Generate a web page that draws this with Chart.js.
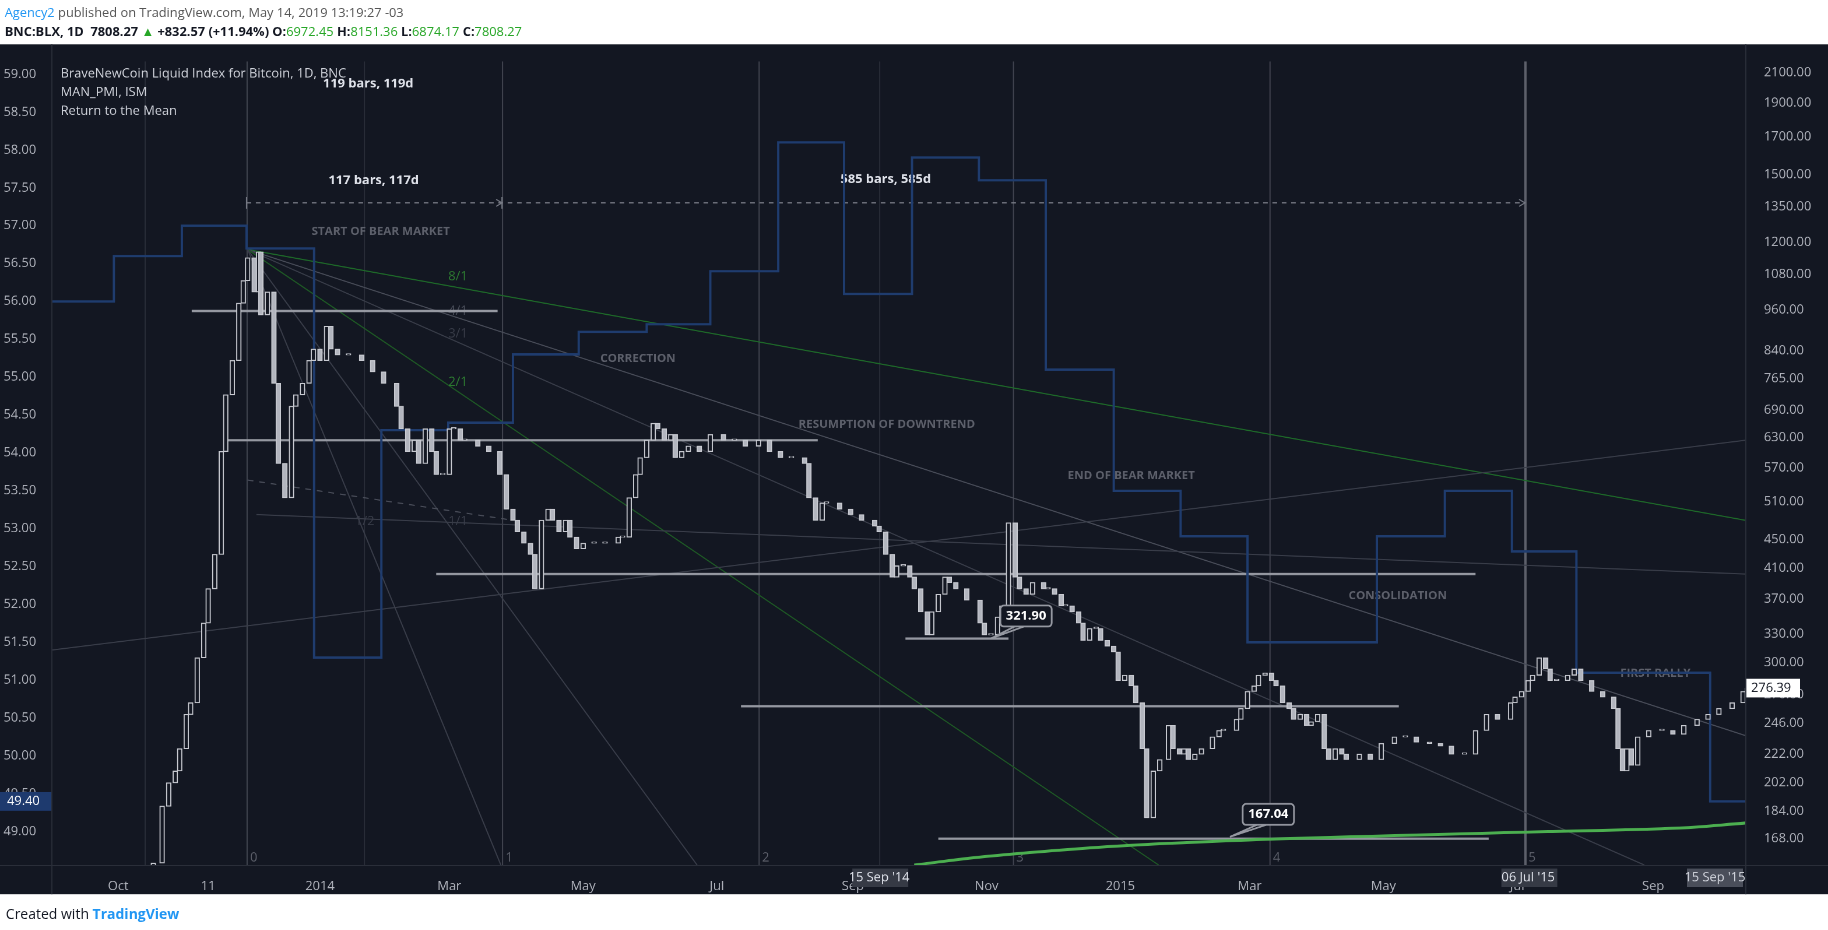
<!DOCTYPE html>
<html><head><meta charset="utf-8">
<script src="https://cdn.jsdelivr.net/npm/chart.js@4/dist/chart.umd.min.js"></script>
<style>
html,body{margin:0;padding:0;background:#fff;overflow:hidden}
#wrap{position:absolute;left:0;top:0;width:1568px;height:798px;transform:scale(1.16582);transform-origin:0 0;font-family:"Open Sans",Arial,sans-serif}
#h1{position:absolute;left:4px;top:3px;font-size:11px;color:#555}
#h1 b{color:#2196f3;font-weight:normal}
#h2{position:absolute;left:4px;top:19px;font-size:11px;color:#131722;font-weight:bold}
#h2 .g{color:#26a626;font-weight:normal}
#cv{position:absolute;left:0;top:38px;width:1568px;height:729px;background:#131722}
#ft{position:absolute;left:5px;top:775px;font-size:12px;color:#131722}
#ft span{color:#2196f3;font-weight:bold}
</style></head><body>
<div id="wrap">
<div id="h1"><b>Agency2</b> published on TradingView.com, May 14, 2019 13:19:27 -03</div>
<div id="h2">BNC:BLX, 1D&nbsp; 7808.27 <span class="g">▲</span> +832.57 (+11.94%) O:<span class="g">6972.45</span> H:<span class="g">8151.36</span> L:<span class="g">6874.17</span> C:<span class="g">7808.27</span></div>
<div id="cv"><canvas id="c" width="1568" height="729"></canvas></div>
<div id="ft">Created with <span>TradingView</span></div>
</div>
<script>
// days counted from 1 Jan 2014
const candleDays=[-76,-72,-69,-66,-64,-61,-59,-56,-53,-51,-48,-45,-43,-40,-37,-35,-33,-30,-28,-27,-24,-21,-19,-16,-13,-11,-8,-5,-3,0,3,5,8,13,19,24,29,35,37,40,43,45,48,51,53,56,59,61,64,66,72,77,82,85,88,90,93,96,98,101,104,106,109,112,114,117,120,125,130,136,138,141,144,146,149,152,154,157,160,162,165,168,173,178,184,189,194,200,205,210,215,221,223,226,229,231,237,242,247,253,255,258,261,263,266,269,271,274,277,279,282,285,287,290,295,301,303,306,309,311,314,317,319,322,325,330,332,335,338,340,343,346,348,351,354,356,359,362,364,367,370,372,375,377,380,383,387,389,392,394,396,399,402,407,410,412,418,420,423,426,428,431,434,436,439,442,444,447,450,452,455,458,460,463,466,468,474,479,484,490,495,500,506,511,516,522,527,532,537,543,545,548,551,553,556,559,561,564,569,572,575,580,585,590,592,594,596,598,601,606,612,617,622,628,633,638,644,649,651];
const candleClose=[155,187,202,210,226,253,263,305,342,383,429,602,726,813,982,1058,1141,1019,1163,945,1019,754,579,517,699,726,754,813,844,813,910,844,828,828,813,783,754,699,649,602,625,579,649,602,558,558,649,649,625,625,613,602,558,498,480,462,445,429,383,480,498,480,462,480,454,437,445,445,445,454,454,517,558,590,625,661,649,625,637,590,602,613,602,637,625,625,613,625,602,590,590,579,517,480,508,508,498,489,480,471,462,429,398,413,413,398,383,355,329,355,376,398,391,383,369,342,329,329,349,362,476,398,383,376,391,383,383,376,362,362,355,342,323,336,336,323,317,311,283,288,278,263,226,180,210,218,244,226,222,226,218,222,226,235,240,240,249,258,273,278,288,290,283,278,263,258,249,253,244,247,253,226,218,226,222,218,222,218,230,235,235,231,230,228,222,222,240,253,249,263,268,273,283,288,305,294,283,283,288,294,283,273,268,258,226,210,226,214,235,240,240,237,244,249,253,258,263,273,276];
const pmiDays=[-122,-94,-63,-33.5,-2.7,28,58.5,88,118,149,178,209,239,270,300.5,331,362,392.5,423,453.7,482,513,543.6,573,604,634,650];
const pmiValues=[56.0,56.6,57.0,56.7,51.3,54.3,54.4,55.3,55.6,55.7,56.4,58.1,56.1,57.9,57.6,55.1,53.5,52.9,51.5,51.5,52.9,53.5,52.7,51.1,51.1,49.4,49.4];
const meanDays=[271,300,340,380,440,500,560,620,651];
const meanValues=[154,158,162,165,168,170,172,174,177];
const priceTicks=[2100,1900,1700,1500,1350,1200,1080,960,840,765,690,630,570,510,450,410,370,330,300,270,246,222,202,184,168];
const pmiTicks=[49,49.5,50,50.5,51,51.5,52,52.5,53,53.5,54,54.5,55,55.5,56,56.5,57,57.5,58,58.5,59];
const timeTickDays=[-92,-51,0,59,120,181,243,304,365,424,485,546,608];
const timeTickLabels=['Oct','11','2014','Mar','May','Jul','Sep','Nov','2015','Mar','May','Jul','Sep'];
// drawings: horizontal levels [dayStart, dayEnd, price]
const levels=[[-58.5,81,957],[-44,227,625],[53,527,402],[267,314,325],[192,492,260],[282,533,168]];
// trend/fan lines [d1,p1,d2,p2,color,dash]
const trendLines=[
 [-33,1172,650,480,'#1f6b2a',[]],[-33,1172,650,236,'#4a4e5a',[]],[-33,1172,604,154,'#3a3e4a',[]],
 [-33,1172,382.5,154,'#1f5a26',[]],[-33,1172,172,154,'#3a3e4a',[]],[-33,1172,82.5,154,'#3a3e4a',[]],
 [-122,313,650,625,'#3a3e4a',[]],[-29,489,650,402,'#3a3e4a',[]],[-33,548,88,480,'#4a4e5a',[5,5]]];
const fanLabels=[['8/1',58.5,1058,'#2e7d32'],['4/1',58.5,945,'#4a4e5a'],['3/1',58.5,877,'#3a3e4a'],['2/1',58.5,748,'#2e7d32'],['1/1',58.5,472,'#3a3e4a'],['1/2',16,472,'#3a3e4a']];
const regionLabels=[['START OF BEAR MARKET',27.7,1249],['CORRECTION',145,822],['RESUMPTION OF DOWNTREND',258.5,661],['END OF BEAR MARKET',370,558],['CONSOLIDATION',491.5,376],['FIRST RALLY',609,291]];
const vLines=[[-33.5,'0'],[83,'1'],[200,'2'],[316,'3'],[433,'4'],[549.5,'5']];
const faintV=[-80,20,255];
const measures=[['119 bars, 119d',22,2030],['117 bars, 117d',24.5,1476],['585 bars, 585d',258,1481]];
const callouts=[['321.90',322,350,306,325],['167.04',432.5,182,415,169]];

const bodies=candleClose.map((c,i)=>{const o=i?candleClose[i-1]:150;const lo=Math.min(o,c),hi=Math.max(o,c);return {x:candleDays[i],y:[lo,hi<lo*1.004?lo*1.004:hi]};});
const up=candleClose.map((c,i)=>c>=(i?candleClose[i-1]:150));

const deco={id:'deco',
 beforeDatasetsDraw(ch){
  const x=ch.scales.x,y=ch.scales.yp,ctx=ch.ctx,a=ch.chartArea;
  ctx.save();ctx.beginPath();ctx.rect(a.left,a.top,a.right-a.left,a.bottom-a.top);ctx.clip();
  ctx.lineWidth=1;
  faintV.forEach(d=>{ctx.strokeStyle='#2a2e39';ctx.beginPath();ctx.moveTo(x.getPixelForValue(d)+.5,a.top);ctx.lineTo(x.getPixelForValue(d)+.5,a.bottom);ctx.stroke();});
  vLines.forEach(v=>{const px=x.getPixelForValue(v[0]);ctx.strokeStyle=v[1]==='5'?'#5d606b':'#434651';ctx.lineWidth=v[1]==='5'?2:1;ctx.beginPath();ctx.moveTo(px+.5,a.top);ctx.lineTo(px+.5,a.bottom);ctx.stroke();
   ctx.fillStyle='#5d606b';ctx.font='11px "Open Sans"';ctx.fillText(v[1],px+3,a.bottom-3);});
  ctx.lineWidth=1;
  trendLines.forEach(t=>{ctx.strokeStyle=t[4];ctx.setLineDash(t[5]);ctx.beginPath();ctx.moveTo(x.getPixelForValue(t[0]),y.getPixelForValue(t[1]));ctx.lineTo(x.getPixelForValue(t[2]),y.getPixelForValue(t[3]));ctx.stroke();});
  ctx.setLineDash([]);
  ctx.font='11px "Open Sans"';
  fanLabels.forEach(f=>{ctx.fillStyle=f[3];ctx.fillText(f[0],x.getPixelForValue(f[1]),y.getPixelForValue(f[2]));});
  ctx.strokeStyle='#9598a1';ctx.lineWidth=2;
  levels.forEach(l=>{const py=y.getPixelForValue(l[2]);ctx.beginPath();ctx.moveTo(x.getPixelForValue(l[0]),py);ctx.lineTo(x.getPixelForValue(l[1]),py);ctx.stroke();});
  ctx.font='bold 10px "Open Sans"';ctx.fillStyle='#5d606b';ctx.textAlign='center';
  regionLabels.forEach(r=>ctx.fillText(r[0],x.getPixelForValue(r[1]),y.getPixelForValue(r[2])+4));
  const ay=y.getPixelForValue(1367);ctx.strokeStyle='#787b86';ctx.lineWidth=1;ctx.setLineDash([4,4]);
  ctx.beginPath();ctx.moveTo(x.getPixelForValue(-33.5),ay);ctx.lineTo(x.getPixelForValue(549.5),ay);ctx.stroke();ctx.setLineDash([]);
  [-33.5,83].forEach(d=>{const px=x.getPixelForValue(d);ctx.beginPath();ctx.moveTo(px,ay-5);ctx.lineTo(px,ay+5);ctx.stroke();});
  [83,549.5].forEach(d=>{const px=x.getPixelForValue(d);ctx.beginPath();ctx.moveTo(px-5,ay-3);ctx.lineTo(px,ay);ctx.lineTo(px-5,ay+3);ctx.stroke();});
  ctx.font='bold 11px "Open Sans"';ctx.fillStyle='#e0e3eb';
  measures.forEach(m=>ctx.fillText(m[0],x.getPixelForValue(m[1]),y.getPixelForValue(m[2])+4));
  ctx.restore();
 },
 afterDatasetsDraw(ch){
  const x=ch.scales.x,y=ch.scales.yp,ctx=ch.ctx,a=ch.chartArea;
  ctx.save();
  ctx.font='bold 11px "Open Sans"';ctx.textAlign='center';ctx.textBaseline='middle';
  callouts.forEach(c=>{const cx=x.getPixelForValue(c[1]),cy=y.getPixelForValue(c[2]);const tx=x.getPixelForValue(c[3]),ty=y.getPixelForValue(c[4]);
   ctx.strokeStyle='#9598a1';ctx.lineWidth=1.5;ctx.beginPath();ctx.moveTo(cx-10,cy+9);ctx.lineTo(tx,ty);ctx.lineTo(cx-2,cy+9);ctx.stroke();
   ctx.fillStyle='#131722';ctx.beginPath();ctx.roundRect(cx-22,cy-9,44,18,3);ctx.fill();ctx.stroke();
   ctx.fillStyle='#fff';ctx.fillText(c[0],cx,cy);});
  ctx.textAlign='left';ctx.font='11px "Open Sans"';ctx.fillStyle='#d1d4dc';
  ['BraveNewCoin Liquid Index for Bitcoin, 1D, BNC','MAN_PMI, ISM','Return to the Mean'].forEach((t,i)=>ctx.fillText(t,a.left+7,a.top+11+i*16));
  const ly=ch.scales.ym.getPixelForValue(pmiValues[pmiValues.length-1]);
  ctx.fillStyle='#1e3a6e';ctx.fillRect(0,ly-8,a.left,16);ctx.fillStyle='#fff';ctx.fillText('49.40',6,ly);
  const ry=y.getPixelForValue(candleClose[candleClose.length-1]);
  ctx.fillStyle='#fff';ctx.fillRect(a.right+1,ry-8,46,16);ctx.fillStyle='#131722';ctx.fillText('276.39',a.right+5,ry);
  [['15 Sep \'14',255],['06 Jul \'15',551]].forEach(l=>{const px=x.getPixelForValue(l[1]);ctx.fillStyle='#363a45';ctx.fillRect(px-23,a.bottom+3,48,16);ctx.fillStyle='#e0e3eb';ctx.textAlign='center';ctx.fillText(l[0],px,a.bottom+11);});
  ctx.fillStyle='#4a4e5a';ctx.fillRect(a.right-50,a.bottom+3,48,16);ctx.fillStyle='#d1d4dc';ctx.fillText('15 Sep \'15',a.right-26,a.bottom+11);
  ctx.strokeStyle='#2a2e39';ctx.lineWidth=1;ctx.beginPath();ctx.moveTo(a.left-.5,0);ctx.lineTo(a.left-.5,ch.height);ctx.moveTo(a.right+.5,0);ctx.lineTo(a.right+.5,ch.height);ctx.moveTo(0,a.bottom+.5);ctx.lineTo(ch.width,a.bottom+.5);ctx.stroke();
  ctx.restore();
 }};

new Chart(document.getElementById('c'),{
 data:{datasets:[
  {type:'line',label:'PMI',yAxisID:'ym',data:pmiDays.map((d,i)=>({x:d,y:pmiValues[i]})),stepped:'before',borderColor:'#1f3c6e',borderWidth:2,pointRadius:0,order:3},
  {type:'bar',label:'BLX',yAxisID:'yp',data:bodies,barThickness:4,backgroundColor:up.map(u=>u?'#131722':'#b2b5be'),borderColor:'#c8cad1',borderWidth:1,borderSkipped:false,order:1},
  {type:'line',label:'mean',yAxisID:'yp',data:meanDays.map((d,i)=>({x:d,y:meanValues[i]})),borderColor:'#4caf50',borderWidth:2.5,pointRadius:0,tension:0.4,order:2}
 ]},
 options:{responsive:false,animation:false,devicePixelRatio:2,
  layout:{padding:0},
  plugins:{legend:{display:false},tooltip:{enabled:false}},
  scales:{
   x:{type:'linear',offset:false,min:-122,max:650,grid:{display:false,offset:false},border:{display:false},
     afterBuildTicks(s){s.ticks=timeTickDays.map(v=>({value:v}));},
     afterFit(s){s.height=25;},
     ticks:{autoSkip:false,maxRotation:0,color:'#b2b5be',font:{size:11,family:'Open Sans'},padding:4,
       callback:(v)=>{const i=timeTickDays.indexOf(v);return i>=0?timeTickLabels[i]:'';}}},
   ym:{type:'linear',position:'left',min:48.56,max:59.17,grid:{display:false},border:{display:false},
     afterBuildTicks(s){s.ticks=pmiTicks.map(v=>({value:v}));},
     afterFit(s){s.width=45;},
     ticks:{color:'#b2b5be',font:{size:11,family:'Open Sans'},padding:6,callback:v=>Number(v).toFixed(2)}},
   yp:{type:'logarithmic',position:'right',min:154,max:2180,grid:{display:false},border:{display:false},
     afterBuildTicks(s){s.ticks=priceTicks.map(v=>({value:v}));},
     afterFit(s){s.width=71;},
     ticks:{color:'#b2b5be',font:{size:11,family:'Open Sans'},padding:8,callback:v=>Number(v).toFixed(2)}}
  }},
 plugins:[deco]
});
</script></body></html>
